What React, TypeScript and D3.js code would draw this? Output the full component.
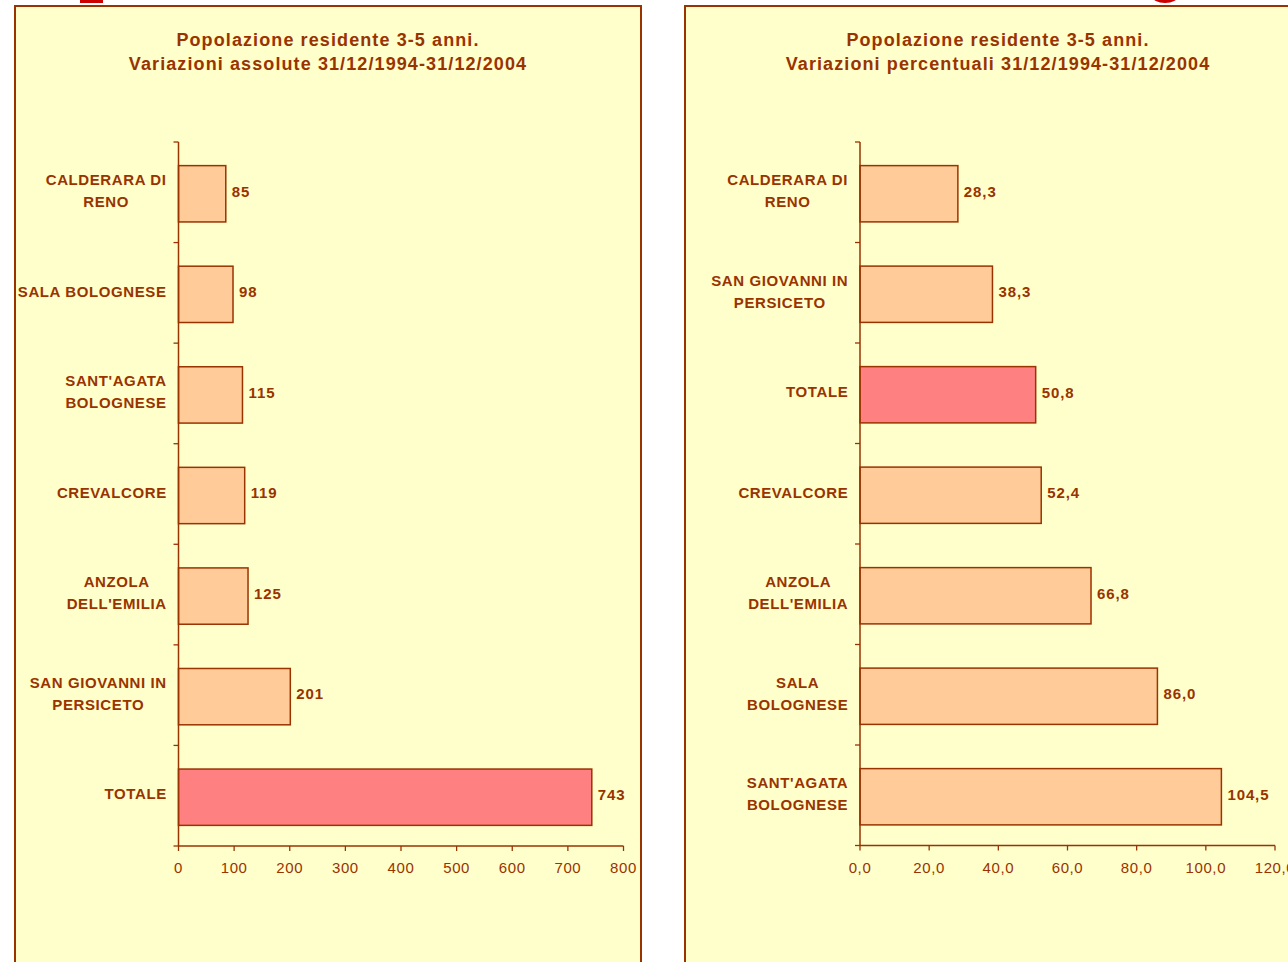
import React from "react";
import * as d3 from "d3";

const TITLE_LINE1 = "Popolazione residente 3-5 anni.";
const LEFT_TITLE_LINE2 = "Variazioni assolute 31/12/1994-31/12/2004";
const RIGHT_TITLE_LINE2 = "Variazioni percentuali 31/12/1994-31/12/2004";

const leftCategories = [
  "CALDERARA DI\nRENO",
  "SALA BOLOGNESE",
  "SANT'AGATA\nBOLOGNESE",
  "CREVALCORE",
  "ANZOLA\nDELL'EMILIA",
  "SAN GIOVANNI IN\nPERSICETO",
  "TOTALE",
];
const leftValues = [85, 98, 115, 119, 125, 201, 743];
const leftTicks = [0, 100, 200, 300, 400, 500, 600, 700, 800];

const rightCategories = [
  "CALDERARA DI\nRENO",
  "SAN GIOVANNI IN\nPERSICETO",
  "TOTALE",
  "CREVALCORE",
  "ANZOLA\nDELL'EMILIA",
  "SALA\nBOLOGNESE",
  "SANT'AGATA\nBOLOGNESE",
];
const rightValues = [28.3, 38.3, 50.8, 52.4, 66.8, 86.0, 104.5];
const rightTicks = [0, 20, 40, 60, 80, 100, 120];

const BG = "#FFFFCC";
const BROWN = "#993300";
const BAR = "#FFCC99";
const TOTAL = "#FF8080";
const FONT = "'Liberation Sans', Arial, sans-serif";

const CAT_SIZE = 15;
const CAT_LS = 0.6;

let measureCtx: CanvasRenderingContext2D | null = null;
function textWidth(s: string, font: string, ls: number) {
  if (!measureCtx) {
    const c = document.createElement("canvas");
    measureCtx = c.getContext("2d");
  }
  if (!measureCtx) return s.length * 9;
  measureCtx.font = font;
  return measureCtx.measureText(s).width + ls * (s.length - 1);
}

type PanelProps = {
  x0: number;
  title2: string;
  categories: string[];
  values: number[];
  ticks: number[];
  axisX: number;
  axisEnd: number;
  axisTop: number;
  axisBottom: number;
  fmtTick: (v: number) => string;
  fmtVal: (v: number) => string;
};

function Panel(p: PanelProps) {
  const width = 628;
  const cx = p.x0 + width / 2;
  const x = d3
    .scaleLinear()
    .domain([p.ticks[0], p.ticks[p.ticks.length - 1]])
    .range([p.axisX, p.axisEnd]);
  const y = d3
    .scaleBand<string>()
    .domain(p.categories)
    .range([p.axisTop, p.axisBottom])
    .padding(0);
  const step = y.step();
  const barH = step * 0.56;
  const catFont = `bold ${CAT_SIZE}px 'Liberation Sans'`;
  const labelRight = p.axisX - 12;

  return (
    <g>
      <rect
        x={p.x0 + 1}
        y={6}
        width={width - 2}
        height={1000}
        fill={BG}
        stroke={BROWN}
        strokeWidth={2}
      />
      <text
        x={cx}
        y={46}
        textAnchor="middle"
        fontFamily={FONT}
        fontWeight="bold"
        fontSize={18}
        letterSpacing={1.1}
        fill={BROWN}
      >
        {TITLE_LINE1}
      </text>
      <text
        x={cx}
        y={70}
        textAnchor="middle"
        fontFamily={FONT}
        fontWeight="bold"
        fontSize={18}
        letterSpacing={1.1}
        fill={BROWN}
      >
        {p.title2}
      </text>

      {p.categories.map((c, i) => {
        const by = (y(c) as number) + step / 2;
        const v = p.values[i];
        const isTotal = c === "TOTALE";
        const lines = c.split("\n");
        const maxW = Math.max(...lines.map((l) => textWidth(l, catFont, CAT_LS)));
        const lcx = labelRight - maxW / 2;
        return (
          <g key={c}>
            <rect
              x={x(0)}
              y={by + 1.5 - barH / 2}
              width={x(v) - x(0)}
              height={barH}
              fill={isTotal ? TOTAL : BAR}
              stroke={BROWN}
              strokeWidth={1.5}
            />
            <text
              x={x(v) + 6}
              y={by - 1}
              dy="0.35em"
              fontFamily={FONT}
              fontWeight="bold"
              fontSize={15}
              letterSpacing={0.9}
              fill={BROWN}
            >
              {p.fmtVal(v)}
            </text>
            {lines.map((l, li) => (
              <text
                key={li}
                x={lcx}
                y={by - 1.5 + (li - (lines.length - 1) / 2) * 22}
                dy="0.35em"
                textAnchor="middle"
                fontFamily={FONT}
                fontWeight="bold"
                fontSize={CAT_SIZE}
                letterSpacing={CAT_LS}
                fill={BROWN}
              >
                {l}
              </text>
            ))}
          </g>
        );
      })}

      {/* y axis */}
      <line
        x1={p.axisX}
        x2={p.axisX}
        y1={p.axisTop}
        y2={p.axisBottom}
        stroke={BROWN}
        strokeWidth={1.5}
      />
      {d3.range(p.categories.length + 1).map((i) => {
        const ty = p.axisTop + i * step;
        return (
          <line
            key={"yt" + i}
            x1={p.axisX - 5}
            x2={p.axisX}
            y1={ty}
            y2={ty}
            stroke={BROWN}
            strokeWidth={1.3}
          />
        );
      })}
      {/* x axis */}
      <line
        x1={p.axisX}
        x2={p.axisEnd}
        y1={p.axisBottom}
        y2={p.axisBottom}
        stroke={BROWN}
        strokeWidth={1.5}
      />
      {p.ticks.map((t) => (
        <g key={"xt" + t}>
          <line
            x1={x(t)}
            x2={x(t)}
            y1={p.axisBottom}
            y2={p.axisBottom + 5}
            stroke={BROWN}
            strokeWidth={1.3}
          />
          <text
            x={x(t)}
            y={p.axisBottom + 27}
            textAnchor="middle"
            fontFamily={FONT}
            fontSize={15}
            letterSpacing={0.6}
            fill={BROWN}
          >
            {p.fmtTick(t)}
          </text>
        </g>
      ))}
    </g>
  );
}

const fmtComma = (v: number) => d3.format(".1f")(v).replace(".", ",");

export default function App() {
  return (
    <div style={{ position: "absolute", left: 0, top: 0 }}>
      <svg width={1288} height={962} style={{ display: "block" }}>
        <rect x={0} y={0} width={1288} height={962} fill="#FFFFFF" />
        <Panel
          x0={14}
          title2={LEFT_TITLE_LINE2}
          categories={leftCategories}
          values={leftValues}
          ticks={leftTicks}
          axisX={178.5}
          axisEnd={623.5}
          axisTop={142}
          axisBottom={846}
          fmtTick={(v) => String(v)}
          fmtVal={(v) => String(v)}
        />
        <Panel
          x0={684}
          title2={RIGHT_TITLE_LINE2}
          categories={rightCategories}
          values={rightValues}
          ticks={rightTicks}
          axisX={860}
          axisEnd={1275}
          axisTop={142}
          axisBottom={845.5}
          fmtTick={fmtComma}
          fmtVal={fmtComma}
        />
        {/* fragments of the red heading cut off above the page */}
        <rect x={80} y={0} width={23} height={3} fill="#CC0000" />
        <ellipse cx={1165} cy={-4} rx={13} ry={7} fill="#CC0000" />
      </svg>
    </div>
  );
}
